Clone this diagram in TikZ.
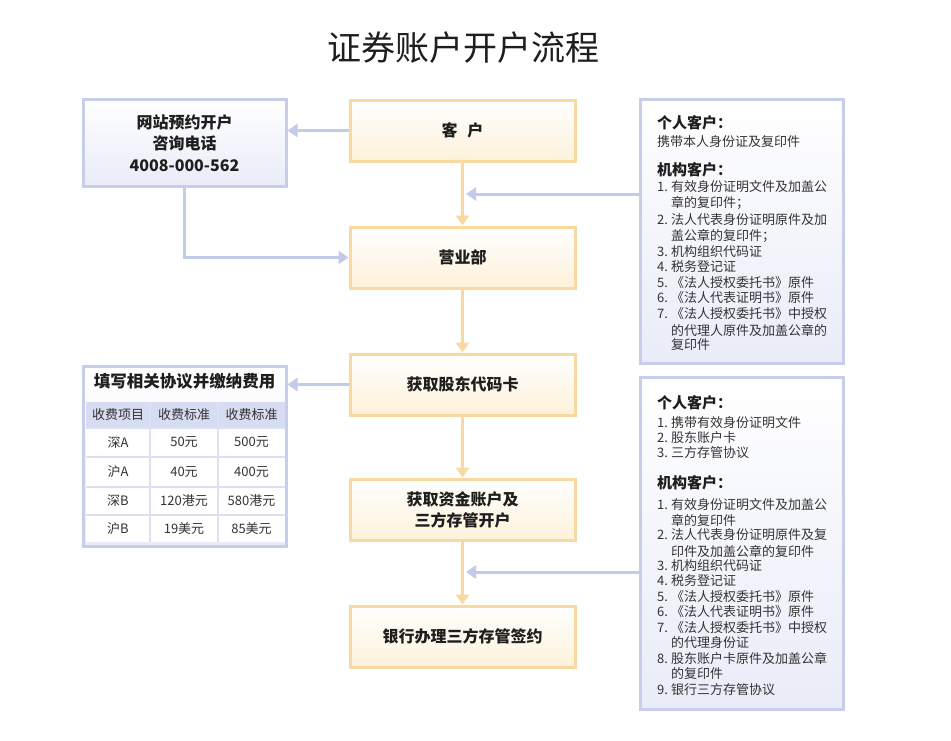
\documentclass[tikz,border=0pt]{standalone}
\usepackage{fontspec}
\setmainfont{Noto Sans CJK SC}
\usetikzlibrary{arrows.meta}
\definecolor{obord}{HTML}{F8D9A2}
\definecolor{ocream}{HTML}{FDF1DA}
\definecolor{bbord}{HTML}{C6CEEA}
\definecolor{bline}{HTML}{C3CBEA}
\definecolor{bfill}{HTML}{E9ECF8}
\definecolor{hdfill}{HTML}{D6DCF1}
\definecolor{cellline}{HTML}{DCE0F0}
\definecolor{txt}{HTML}{1E1E1E}
\definecolor{txtb}{HTML}{333333}
\tikzset{
  flowbox/.style={draw=obord, line width=3pt, top color=white, bottom color=ocream,
    minimum width=225, minimum height=61, inner sep=0pt, align=center, text=txt,
    font=\bfseries\fontsize{16}{21}\selectfont},
  infobox/.style={draw=bbord, line width=3pt, top color=white, bottom color=bfill,
    inner sep=0pt},
  bodyline/.style={anchor=west, inner sep=0pt, text=txtb, font=\fontsize{13}{15}\selectfont},
  headline/.style={anchor=west, inner sep=0pt, text=txt, font=\bfseries\fontsize{15}{18}\selectfont},
  cell/.style={inner sep=0pt, text=txtb, font=\fontsize{13}{15}\selectfont},
  barrow/.style={draw=bline, line width=3pt, -{Triangle[length=10pt,width=13pt]}},
  oarrow/.style={draw=obord, line width=3pt, -{Triangle[length=10pt,width=13pt]}},
}
\newcommand{\nm}[1]{\makebox[14pt][l]{#1}}
\newcommand{\ind}{\hspace*{14pt}}
\begin{document}
\begin{tikzpicture}[x=1pt,y=-1pt]
\useasboundingbox[fill=white] (0,0) rectangle (951,740);

% title
\node[inner sep=0pt, text=txt, font=\fontsize{34}{38}\selectfont] (title) at (463,48) {证券账户开户流程};

% main flow
\node[flowbox] (kh)  at (462.5,130.5) {客\hspace{0.6em}户};
\node[flowbox] (yyb) at (462.5,257.5) {营业部};
\node[flowbox] (gd)  at (462.5,384.5) {获取股东代码卡};
\node[flowbox] (zj)  at (462.5,509.5) {获取资金账户及\\三方存管开户};
\node[flowbox] (yh)  at (462.5,636.5) {银行办理三方存管签约};

% left web box
\node[infobox, minimum width=203, minimum height=87, align=center, text=txt,
  font=\bfseries\fontsize{16}{21.5}\selectfont] (web) at (184.5,143) {网站预约开户\\咨询电话\\4008-000-562};

% fee table box
\node[infobox, minimum width=203, minimum height=180] (fee) at (184.5,456) {};
\node[inner sep=0pt, text=txt, font=\bfseries\fontsize{16.5}{20}\selectfont] (feetitle) at (184.5,381) {填写相关协议并缴纳费用};
\fill[hdfill] (86,402) rectangle (285,428);
\fill[white] (86,428) rectangle (285,542);
\foreach \yy in {428,457,487,515} \draw[cellline, line width=1.5pt] (86,\yy) -- (285,\yy);
\foreach \xx in {150,218} \draw[cellline, line width=1.5pt] (\xx,402) -- (\xx,542);
\foreach \r/\yy/\a/\b/\c in {0/415/收费项目/收费标准/收费标准, 1/442.5/深A/50元/500元, 2/472/沪A/40元/400元, 3/501/深B/120港元/580港元, 4/528.5/沪B/19美元/85美元}{
  \node[cell] (c\r a) at (118,\yy) {\a};
  \node[cell] (c\r b) at (184,\yy) {\b};
  \node[cell] (c\r c) at (251.5,\yy) {\c};
}

% right box 1
\node[infobox, minimum width=203, minimum height=264] (ra) at (741.5,231) {};
\node[headline] (ra1) at (657,123) {个人客户：};
\node[bodyline] (ra2) at (657,142) {携带本人身份证及复印件};
\node[headline] (ra3) at (657,170) {机构客户：};
\foreach \yy/\t [count=\i from 4] in {
  187/{\nm{1.}有效身份证明文件及加盖公},
  203/{\ind 章的复印件；},
  220/{\nm{2.}法人代表身份证明原件及加},
  236/{\ind 盖公章的复印件；},
  252/{\nm{3.}机构组织代码证},
  267/{\nm{4.}税务登记证},
  283/{\nm{5.}《法人授权委托书》原件},
  298/{\nm{6.}《法人代表证明书》原件},
  314/{\nm{7.}《法人授权委托书》中授权},
  330/{\ind 的代理人原件及加盖公章的},
  345/{\ind 复印件}}
  \node[bodyline] (ra\i) at (657,\yy) {\t};

% right box 2
\node[infobox, minimum width=203, minimum height=332] (rb) at (741.5,543) {};
\node[headline] (rb1) at (657,403) {个人客户：};
\foreach \yy/\t [count=\i from 2] in {
  423/{\nm{1.}携带有效身份证明文件},
  438/{\nm{2.}股东账户卡},
  453/{\nm{3.}三方存管协议}}
  \node[bodyline] (rb\i) at (657,\yy) {\t};
\node[headline] (rb5) at (657,483) {机构客户：};
\foreach \yy/\t [count=\i from 6] in {
  505/{\nm{1.}有效身份证明文件及加盖公},
  520/{\ind 章的复印件},
  535/{\nm{2.}法人代表身份证明原件及复},
  551/{\ind 印件及加盖公章的复印件},
  566/{\nm{3.}机构组织代码证},
  581/{\nm{4.}税务登记证},
  597/{\nm{5.}《法人授权委托书》原件},
  612/{\nm{6.}《法人代表证明书》原件},
  628/{\nm{7.}《法人授权委托书》中授权},
  643/{\ind 的代理身份证},
  658/{\nm{8.}股东账户卡原件及加盖公章},
  674/{\ind 的复印件},
  690/{\nm{9.}银行三方存管协议}}
  \node[bodyline] (rb\i) at (657,\yy) {\t};

% connectors
\coordinate (j1) at (466,194);
\coordinate (j2) at (466,572);
\draw[barrow] (kh.west) -- (kh.west -| web.east);
\draw[barrow] (web.south) |- (yyb.west);
\draw[barrow] (gd.west) -- (gd.west -| fee.east);
\draw[barrow] (j1 -| ra.west) -- (j1);
\draw[barrow] (j2 -| rb.west) -- (j2);
\draw[oarrow] (kh) -- (yyb);
\draw[oarrow] (yyb) -- (gd);
\draw[oarrow] (gd) -- (zj);
\draw[oarrow] (zj) -- (yh);
\end{tikzpicture}
\end{document}
